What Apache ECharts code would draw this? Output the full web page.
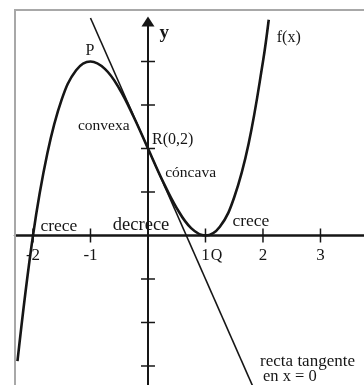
<!DOCTYPE html>
<html>
<head>
<meta charset="utf-8">
<script src="https://cdn.jsdelivr.net/npm/echarts@6/dist/echarts.min.js"></script>
<style>
  html, body { margin: 0; padding: 0; background: #fff; }
  #chart { width: 364px; height: 385px; }
</style>
</head>
<body>
<div id="chart"></div>
<script>
// f(x): points along the cubic (max at P, inflection at R, min at Q)
const curveX = [-2.27, -2, -1.75, -1.5, -1.25, -1, -0.75, -0.5, -0.25, 0, 0.25, 0.5, 0.75, 1, 1.25, 1.5, 1.75, 2, 2.1];
const curveY = [-2.89, 0, 1.89, 3.13, 3.8, 4, 3.83, 3.38, 2.73, 2, 1.27, 0.63, 0.17, 0, 0.2, 0.88, 2.11, 4, 4.96];

// tangent line at x = 0 (through R)
const tangentX = [-1.0, 1.85];
const tangentY = [5.0, -3.55];

// axis ticks and their labels
const xTickValues = [-2, -1, 1, 2, 3];
const xTickLabels = ['-2', '-1', '1', '2', '3'];
const yTickValues = [-3, -2, -1, 1, 2, 3, 4];

// annotation texts
const noteTexts = ['y', 'P', 'f(x)', 'convexa', 'R(0,2)', 'cóncava', 'crece', 'decrece', 'crece', 'Q', 'recta tangente', 'en x = 0'];

// ---- layout / styling ----
const SERIF = "'Liberation Serif', 'DejaVu Serif', serif";
const INK = '#161616';
const FRAME = '#a8a8a8';
const X_MIN = -2.313, X_MAX = 3.757;
const Y_MIN = -3.437, Y_MAX = 5.184;

// where each annotation sits, in axis units
const noteLayout = [
  { at: [0.2, 4.66],  align: 'left',   font: 'bold 19px ' + SERIF },
  { at: [-1.01, 4.24], align: 'center', font: '16px ' + SERIF },
  { at: [2.24, 4.54], align: 'left',   font: '16px ' + SERIF },
  { at: [-0.77, 2.52], align: 'center', font: '15.5px ' + SERIF },
  { at: [0.07, 2.2],  align: 'left',   font: '16px ' + SERIF },
  { at: [0.3, 1.45],  align: 'left',   font: '15.5px ' + SERIF },
  { at: [-1.55, 0.2], align: 'center', font: '17.5px ' + SERIF },
  { at: [-0.12, 0.24], align: 'center', font: '18.5px ' + SERIF },
  { at: [1.79, 0.33], align: 'center', font: '17.5px ' + SERIF },
  { at: [1.19, -0.47], align: 'center', font: '16px ' + SERIF },
  { at: [1.95, -2.89], align: 'left',  font: '17px ' + SERIF },
  { at: [2.0, -3.25], align: 'left',   font: '16.5px ' + SERIF }
];

const zip = (xs, ys) => xs.map((x, i) => [x, ys[i]]);

const tickData = xTickValues.map(v => [v, 0, 0]).concat(yTickValues.map(v => [0, v, 1]));

const chart = echarts.init(document.getElementById('chart'), null, { renderer: 'canvas' });

chart.setOption({
  animation: false,
  backgroundColor: '#fff',
  grid: { left: 15, top: 10, right: 0, bottom: 0, show: false },
  xAxis: {
    type: 'value', min: X_MIN, max: X_MAX,
    axisLine: { show: true, onZero: true, lineStyle: { color: INK, width: 2.5 } },
    axisTick: { show: false }, axisLabel: { show: false }, splitLine: { show: false }
  },
  yAxis: {
    type: 'value', min: Y_MIN, max: Y_MAX,
    axisLine: { show: false }, axisTick: { show: false },
    axisLabel: { show: false }, splitLine: { show: false }
  },
  series: [
    {
      // frame: left and top edges of the plot box
      type: 'custom', silent: true, clip: false,
      data: [[X_MIN, Y_MAX]],
      renderItem(params, api) {
        const tl = api.coord([X_MIN, Y_MAX]);
        const bl = api.coord([X_MIN, Y_MIN]);
        const tr = api.coord([X_MAX, Y_MAX]);
        return {
          type: 'polyline',
          shape: { points: [[bl[0], bl[1] + 2], tl, [tr[0] + 2, tr[1]]] },
          style: { stroke: FRAME, lineWidth: 2, fill: null }
        };
      }
    },
    {
      // vertical axis with arrow head
      type: 'line', data: [], silent: true,
      markLine: {
        silent: true,
        symbol: ['none', 'triangle'],
        symbolSize: [13, 10],
        label: { show: false },
        lineStyle: { color: INK, width: 2, type: 'solid' },
        data: [[{ coord: [0, Y_MIN] }, { coord: [0, 4.92] }]]
      }
    },
    {
      type: 'custom', silent: true,
      data: tickData,
      renderItem(params, api) {
        const p = api.coord([api.value(0), api.value(1)]);
        const vertical = api.value(2) === 0;
        const h = 7;
        return {
          type: 'line',
          shape: vertical
            ? { x1: p[0], y1: p[1] - h, x2: p[0], y2: p[1] + h }
            : { x1: p[0] - h, y1: p[1], x2: p[0] + h, y2: p[1] },
          style: { stroke: INK, lineWidth: 1.5 }
        };
      }
    },
    {
      type: 'custom', silent: true,
      data: xTickValues.map((v, i) => [v, 0, i]),
      renderItem(params, api) {
        const p = api.coord([api.value(0), api.value(1)]);
        return {
          type: 'text', x: p[0], y: p[1] + 20,
          style: {
            text: xTickLabels[params.dataIndex], fill: INK,
            font: '17px ' + SERIF, align: 'center', verticalAlign: 'middle'
          }
        };
      }
    },
    {
      name: 'f(x)', type: 'line', data: zip(curveX, curveY),
      smooth: 0.4, showSymbol: false, silent: true,
      lineStyle: { color: INK, width: 2.6 }
    },
    {
      name: 'tangente', type: 'line', data: zip(tangentX, tangentY),
      showSymbol: false, silent: true,
      lineStyle: { color: INK, width: 1.6 }
    },
    {
      type: 'custom', silent: true,
      data: noteLayout.map(n => n.at),
      renderItem(params, api) {
        const i = params.dataIndex;
        const p = api.coord([api.value(0), api.value(1)]);
        const n = noteLayout[i];
        return {
          type: 'text', x: p[0], y: p[1],
          style: {
            text: noteTexts[i], fill: INK, font: n.font,
            align: n.align, verticalAlign: 'middle'
          }
        };
      }
    }
  ]
});
</script>
</body>
</html>
